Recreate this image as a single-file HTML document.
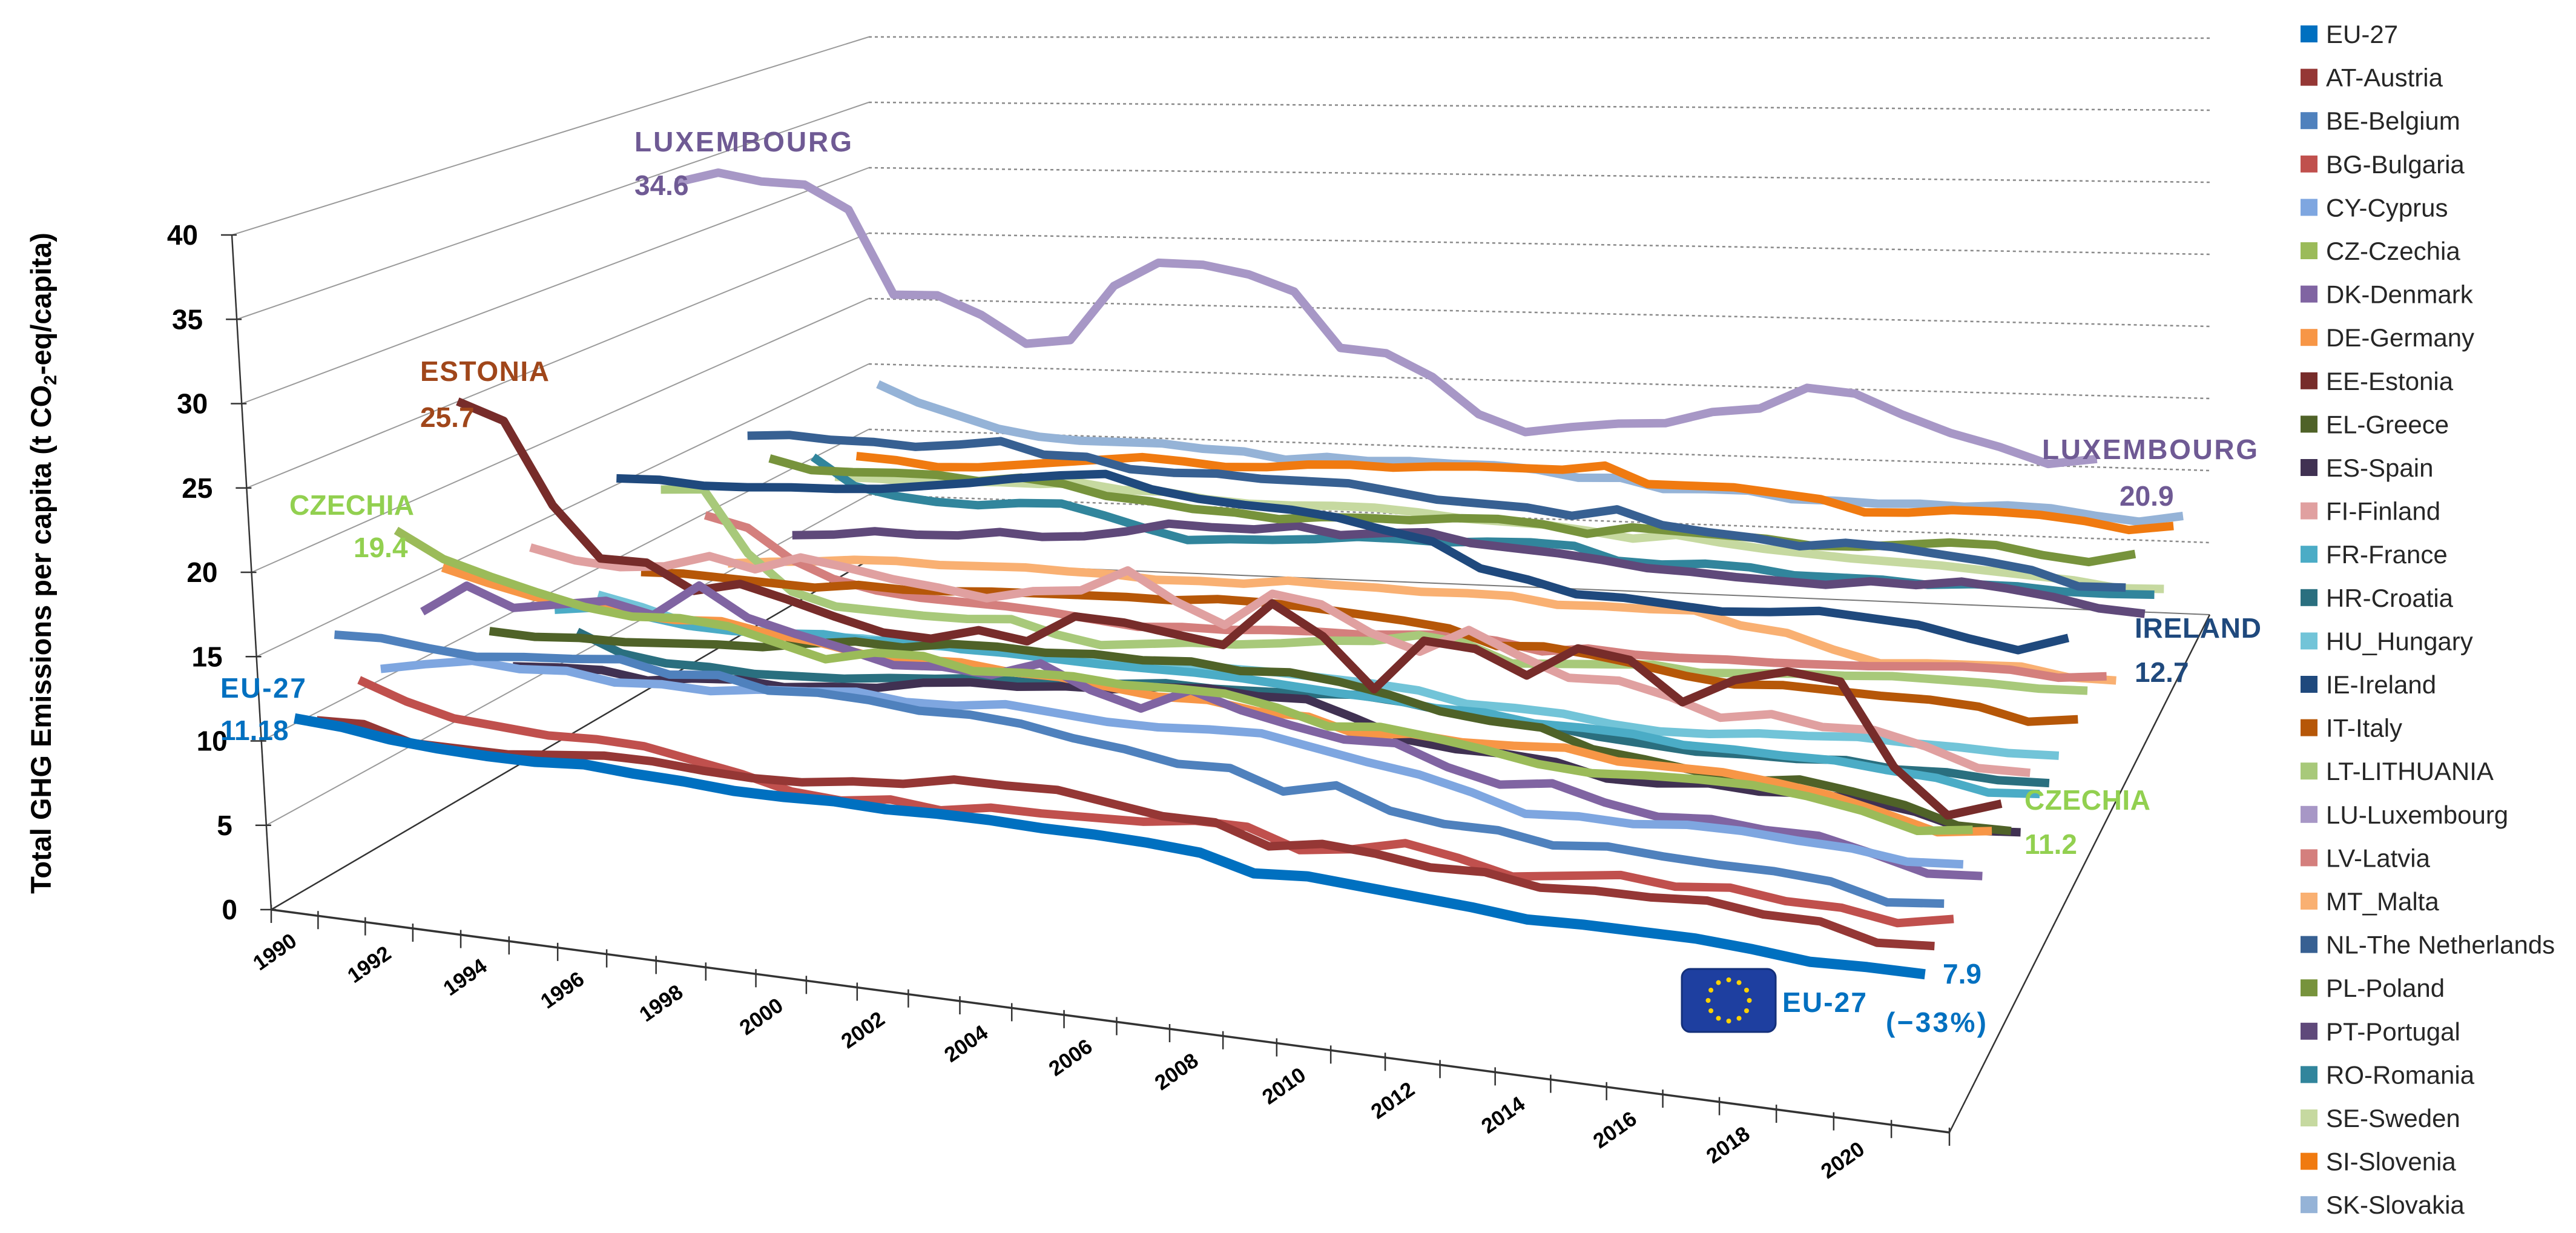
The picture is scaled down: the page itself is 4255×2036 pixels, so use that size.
<!DOCTYPE html>
<html><head><meta charset="utf-8">
<style>
html,body{margin:0;padding:0;background:#fff;}
svg{display:block;font-family:"Liberation Sans",sans-serif;}
</style></head>
<body>
<svg id="chart" xmlns="http://www.w3.org/2000/svg" width="4255" height="2036" viewBox="0 0 4255 2036">
<rect x="0" y="0" width="4255" height="2036" fill="#fff"/>
<g id="grid"></g>
<g id="axes"></g>
<g id="series"></g>
<g id="legend"></g>
<text transform="translate(84,930) rotate(-90)" text-anchor="middle" font-size="47" font-weight="bold" fill="#000">Total GHG Emissions per capita  (t CO<tspan font-size="30" baseline-shift="-9">2</tspan>-eq/capita)</text>
<g font-weight="bold">
<text x="1048" y="250" font-size="46" fill="#6F5A94" textLength="359">LUXEMBOURG</text>
<text x="1048" y="322" font-size="46" fill="#6F5A94">34.6</text>
<text x="694" y="629" font-size="46" fill="#A0461A" textLength="213">ESTONIA</text>
<text x="694" y="705" font-size="46" fill="#A0461A">25.7</text>
<text x="478" y="850" font-size="46" fill="#92D050" textLength="206">CZECHIA</text>
<text x="584" y="920" font-size="46" fill="#92D050">19.4</text>
<text x="364" y="1152" font-size="46" fill="#0070C0" textLength="141">EU-27</text>
<text x="364" y="1222" font-size="46" fill="#0070C0">11.18</text>
<text x="3373" y="758" font-size="46" fill="#6F5A94" textLength="356">LUXEMBOURG</text>
<text x="3501" y="835" font-size="46" fill="#6F5A94">20.9</text>
<text x="3526" y="1053" font-size="46" fill="#1F497D" textLength="209">IRELAND</text>
<text x="3526" y="1126" font-size="46" fill="#1F497D">12.7</text>
<text x="3344" y="1337" font-size="46" fill="#92D050" textLength="208">CZECHIA</text>
<text x="3344" y="1410" font-size="46" fill="#92D050">11.2</text>
<g>
<rect x="2778" y="1600" width="155" height="104" rx="14" fill="#1E3FA0" stroke="#14307a" stroke-width="3"/>
<g id="stars" fill="#FFD200"></g>
</g>
<text x="2944" y="1671" font-size="46" fill="#0070C0" textLength="139">EU-27</text>
<text x="3209" y="1624" font-size="46" fill="#0070C0">7.9</text>
<text x="3115" y="1704" font-size="46" fill="#0070C0" textLength="166">(−33%)</text>
</g>
</svg>
<script>
const years = [];
for (let y = 1990; y <= 2021; y++) years.push(y);
const yTicks = [0,5,10,15,20,25,30,35,40];
const seriesNames = ["EU-27","AT-Austria","BE-Belgium","BG-Bulgaria","CY-Cyprus","CZ-Czechia","DK-Denmark","DE-Germany","EE-Estonia","EL-Greece","ES-Spain","FI-Finland","FR-France","HR-Croatia","HU_Hungary","IE-Ireland","IT-Italy","LT-LITHUANIA","LU-Luxembourg","LV-Latvia","MT_Malta","NL-The Netherlands","PL-Poland","PT-Portugal","RO-Romania","SE-Sweden","SI-Slovenia","SK-Slovakia"];
const seriesColors = ["#0070C0","#953735","#4F81BD","#C0504D","#7EA6E0","#9BBB59","#8064A2","#F79646","#772C2A","#4F6228","#403152","#E0A0A0","#4BACC6","#2A6F7F","#72C4D8","#1F497D","#B65708","#A8C97A","#A797C6","#D47F7D","#F9B072","#376092","#77933C","#5F497A","#31859C","#C6D9A0","#F07A10","#95B3D7"];
const vEU = [11.18,11.0,10.6,10.4,10.3,10.3,10.5,10.3,10.2,10.0,10.0,10.1,10.0,10.1,10.1,10.0,10.0,9.9,9.7,8.9,9.1,8.9,8.7,8.5,8.2,8.3,8.3,8.3,8.1,7.8,7.9,7.9];
const vAT = [10.4,10.5,9.7,9.7,9.7,10.0,10.3,10.3,10.1,10.0,10.1,10.5,10.7,11.3,11.3,11.4,11.0,10.6,10.6,9.6,10.1,9.9,9.5,9.6,9.1,9.3,9.3,9.5,9.1,9.1,8.3,8.5];
const vBE = [14.9,15.0,14.7,14.5,14.8,15.0,15.3,14.7,15.0,14.4,14.6,14.5,14.2,14.3,14.1,13.6,13.3,12.8,12.9,11.9,12.6,11.5,11.1,11.1,10.6,10.9,10.7,10.6,10.6,10.4,9.6,9.9];
const vBG = [11.5,10.5,9.8,9.6,9.4,9.5,9.4,8.9,8.4,7.7,7.5,7.9,7.6,8.1,8.1,8.2,8.3,8.7,8.7,7.7,8.1,8.8,8.3,7.6,8.0,8.4,8.1,8.4,8.0,8.0,7.5,8.1];
const vCY = [11.5,12.1,12.6,12.4,12.6,12.2,12.4,12.3,12.7,12.9,13.2,12.9,13.0,13.4,13.2,13.0,13.0,13.2,13.3,12.8,12.3,11.9,11.2,10.3,10.5,10.4,10.7,10.7,10.5,10.4,10.0,10.2];
const vCZ = [19.4,17.9,17.1,16.4,15.8,15.5,15.7,15.5,14.8,14.1,14.8,14.9,14.3,14.5,14.6,14.4,14.5,14.5,14.0,13.2,13.5,13.2,12.8,12.3,12.1,12.3,12.4,12.4,12.1,11.6,10.8,11.2];
const vDK = [13.7,15.6,14.5,15.0,15.5,14.9,17.0,15.3,14.6,14.0,13.3,13.5,13.3,14.3,13.0,12.2,13.6,12.7,12.1,11.6,11.7,10.6,9.9,10.3,9.5,9.0,9.2,8.9,8.9,8.2,7.4,7.6];
const vDE = [15.8,15.1,14.5,14.3,14.0,13.9,14.1,13.6,13.4,12.9,12.9,13.0,12.7,12.7,12.4,12.1,12.2,11.8,11.8,11.0,11.4,11.2,11.3,11.5,11.0,11.0,11.0,10.7,10.3,9.6,8.8,9.2];
const vEE = [25.7,24.7,19.6,16.5,16.5,15.0,15.7,15.0,14.2,13.5,13.4,14.2,13.8,15.6,15.5,15.1,14.7,17.5,15.8,12.9,16.1,15.9,14.6,16.5,16.1,13.9,15.5,16.3,16.0,11.3,8.8,9.8];
const vEL = [10.4,10.3,10.5,10.5,10.7,10.9,11.0,11.5,11.9,11.8,12.3,12.4,12.3,12.5,12.4,12.6,12.3,12.5,12.2,11.7,11.0,10.7,10.6,9.6,9.3,8.9,8.6,9.0,8.6,8.1,7.2,7.2];
const vES = [7.4,7.6,7.7,7.3,7.7,7.9,7.7,8.0,8.2,8.8,9.1,9.1,9.4,9.5,9.9,10.1,9.9,10.0,9.1,8.1,7.8,7.8,7.6,6.9,6.9,7.2,7.0,7.2,7.1,6.7,5.9,6.1];
const vFI = [14.4,13.8,13.6,13.9,14.8,14.2,15.2,14.8,14.3,14.0,13.6,14.3,14.6,16.1,14.4,13.2,15.4,15.0,13.5,12.6,14.2,12.9,11.8,11.9,11.2,10.2,10.7,10.2,10.3,9.6,8.6,8.6];
const vFR = [9.6,10.0,9.7,9.3,9.2,9.3,9.5,9.3,9.6,9.3,9.3,9.2,9.1,9.1,9.1,9.0,8.8,8.6,8.5,8.2,8.2,7.8,7.8,7.7,7.3,7.3,7.2,7.2,6.9,6.7,6.1,6.3];
const vHR = [7.4,6.2,5.8,5.8,5.6,5.7,5.8,6.1,6.3,6.6,6.6,6.8,7.0,7.3,7.2,7.3,7.4,7.6,7.4,7.0,6.8,6.7,6.3,6.1,5.9,6.0,6.0,6.2,5.9,6.0,5.8,5.9];
const vHU = [9.1,8.5,7.7,7.6,7.5,7.5,7.6,7.5,7.5,7.6,7.5,7.5,7.4,7.7,7.6,7.6,7.5,7.4,7.2,6.6,6.6,6.5,6.1,5.9,6.0,6.3,6.4,6.6,6.5,6.5,6.4,6.5];
const vIE = [16.2,16.3,16.1,16.2,16.4,16.5,16.7,17.1,17.5,18.0,18.4,18.7,17.9,17.5,17.3,17.2,16.9,16.3,15.8,14.3,13.8,13.1,13.1,12.9,12.7,12.9,13.2,13.0,12.8,12.2,11.7,12.7];
const vIT = [9.1,9.2,9.1,9.0,8.9,9.3,9.2,9.3,9.5,9.6,9.7,9.8,9.8,10.1,10.1,10.0,9.8,9.6,9.3,8.4,8.6,8.3,7.9,7.4,7.1,7.3,7.2,7.1,7.1,6.9,6.2,6.6];
const vLT = [14.0,14.2,10.0,7.6,6.8,6.7,6.6,6.6,6.8,6.0,5.5,5.8,6.1,6.2,6.5,6.9,7.1,7.7,7.4,6.3,6.5,6.7,6.9,6.6,6.8,7.0,7.1,7.3,7.3,7.3,7.2,7.3];
const vLU = [34.6,35.4,34.9,34.8,33.2,27.5,27.6,26.4,24.6,25.0,28.8,30.5,30.5,30.0,29.0,25.4,25.2,23.8,21.5,20.5,21.0,21.4,21.6,22.5,22.9,24.4,24.2,23.0,22.0,21.3,20.4,20.9];
const vLV = [10.7,10.0,8.0,6.8,6.2,5.9,5.8,5.7,5.5,5.2,4.9,5.1,5.1,5.3,5.4,5.4,5.6,5.8,5.6,5.1,5.5,5.3,5.3,5.4,5.4,5.5,5.6,5.8,6.0,6.0,5.7,6.0];
const vMT = [6.5,6.8,7.0,7.3,7.4,7.3,7.4,7.5,7.4,7.4,7.2,7.3,7.3,7.7,7.6,7.6,7.5,7.6,7.6,7.2,7.3,7.3,7.4,6.6,6.3,5.4,4.7,4.9,5.0,5.1,4.6,4.6];
const vNL = [14.8,15.0,14.8,14.8,14.6,14.9,15.3,14.5,14.5,13.8,13.7,13.8,13.6,13.6,13.6,13.2,12.8,12.7,12.6,12.2,12.8,11.9,11.6,11.4,11.0,11.4,11.3,11.0,10.7,10.3,9.4,9.5];
const vPL = [12.4,11.7,11.7,11.8,11.8,11.5,11.9,11.6,10.9,10.7,10.3,10.2,9.9,10.2,10.3,10.3,10.6,10.7,10.5,10.0,10.6,10.5,10.4,10.3,10.0,10.1,10.4,10.7,10.7,10.2,9.9,10.6];
const vPT = [6.0,6.2,6.6,6.5,6.6,7.0,6.8,7.0,7.5,8.2,8.1,8.1,8.5,8.0,8.3,8.5,7.9,7.7,7.5,7.2,6.8,6.7,6.5,6.4,6.3,6.7,6.6,7.0,6.7,6.3,5.7,5.5];
const vRO = [10.9,8.9,8.3,8.0,7.9,8.2,8.3,7.6,6.8,6.1,6.3,6.4,6.6,6.9,6.9,6.8,7.0,7.1,7.0,6.1,6.0,6.2,6.1,5.7,5.7,5.7,5.5,5.7,5.7,5.5,5.5,5.6];
const vSE = [8.6,8.6,8.5,8.6,8.7,8.7,8.9,8.5,8.5,8.1,7.9,7.9,8.0,8.0,7.8,7.5,7.4,7.3,7.0,6.6,7.0,6.6,6.3,6.1,5.9,5.8,5.7,5.5,5.3,5.1,4.7,4.8];
const vSI = [9.3,9.1,8.7,8.8,9.1,9.4,9.7,10.0,9.8,9.5,9.6,9.9,10.0,9.9,10.1,10.2,10.2,10.2,10.6,9.4,9.4,9.4,9.1,8.8,8.0,8.1,8.4,8.4,8.3,8.0,7.5,7.9];
const vSK = [13.9,12.6,11.7,10.8,10.3,10.1,10.1,10.1,9.8,9.7,9.2,9.5,9.3,9.4,9.3,9.3,9.1,8.6,8.7,8.0,8.1,8.1,7.6,7.6,7.5,7.6,7.5,7.7,7.6,7.2,6.9,7.4];
const seriesValues = [vEU,vAT,vBE,vBG,vCY,vCZ,vDK,vDE,vEE,vEL,vES,vFI,vFR,vHR,vHU,vIE,vIT,vLT,vLU,vLV,vMT,vNL,vPL,vPT,vRO,vSE,vSI,vSK];

const NS = "http://www.w3.org/2000/svg";
const FL=[448,1502], FR=[3220,1870], BL=[1435,925], BR=[3650,1015];
const sFL=27.85, sFR=30.5, sBL=21.6, sBR=23.8;
function gF(u){const k=0.124;return (u+k*u*u)/(1+k);}
function gB(u){const k=0.05;return (u+k*u*u)/(1+k);}
function proj(u,d,v){
  const a=gF(u), b=gB(u);
  const fx=FL[0]+(FR[0]-FL[0])*a, fy=FL[1]+(FR[1]-FL[1])*a;
  const bx=BL[0]+(BR[0]-BL[0])*b, by=BL[1]+(BR[1]-BL[1])*b;
  const x=fx+(bx-fx)*d, y=fy+(by-fy)*d;
  const sF=sFL+(sFR-sFL)*u, sB=sBL+(sBR-sBL)*u;
  const s=sF+(sB-sF)*d;
  const tilt=-1.625*(1-d)*(1-u);
  return [x+tilt*v, y-s*v];
}
const nCat=years.length, nSer=seriesValues.length;
function xU(i){return (i+0.5)/nCat;}
function dS(j){return (j+0.5)/nSer;}
function mk(tag,attrs,parent){const e=document.createElementNS(NS,tag);for(const k in attrs)e.setAttribute(k,attrs[k]);parent.appendChild(e);return e;}

const grid=document.getElementById('grid');
yTicks.forEach(v=>{
  if(v===0)return;
  const a=proj(0,0,v), b=proj(0,1,v), c=proj(1,1,v);
  const l1=mk('line',{x1:a[0],y1:a[1],x2:b[0],y2:b[1],stroke:'#9a9a9a','stroke-width':2},grid);
  
  
  const l2=mk('line',{x1:b[0],y1:b[1],x2:c[0],y2:c[1],stroke:'#8a8a8a','stroke-width':2.5,'stroke-dasharray':'5 5'},grid);
  
  
});
const axes=document.getElementById('axes');
function line(p,q,w,name,col){const l=mk('line',{x1:p[0],y1:p[1],x2:q[0],y2:q[1],stroke:col||'#333','stroke-width':w},axes);return l;}
line(proj(0,0,0),proj(0,1,0),2.5,'floor-left-edge');
line(proj(0,1,0),proj(1,1,0),2,'floor-back-edge','#777');
line(proj(1,0,0),proj(1,1,0),2.5,'floor-right-edge');
line(proj(0,0,0),proj(1,0,0),3.5,'x-axis-line');
line(proj(0,0,0),proj(0,0,40),2.5,'y-axis-line');
for(let i=0;i<=nCat;i++){
  const p=proj(i/nCat,0,0);
  line([p[0],p[1]-8],[p[0],p[1]+22],2.5,'x-tick');
}
yTicks.forEach(v=>{
  const p=proj(0,0,v);
  line([p[0]-18,p[1]],[p[0]+8,p[1]],2.5,'y-tick');
  const t=mk('text',{x:p[0]-56,y:p[1]+16,'text-anchor':'end','font-size':46,'font-weight':'bold',fill:'#000'},axes);
  
  
  t.textContent=v;
});
years.forEach((yr,i)=>{
  if(yr%2!==0)return;
  const p=proj(xU(i),0,0);
  const tx=p[0]+6, ty=p[1]+52;
  const t=mk('text',{x:tx,y:ty,'text-anchor':'end','font-size':35,'font-weight':'bold',fill:'#000',transform:`rotate(-35 ${tx} ${ty})`},axes);
  
  
  t.textContent=yr;
});

const sg=document.getElementById('series');
for(let j=nSer-1;j>=0;j--){
  const vals=seriesValues[j];
  const pts=vals.map((v,i)=>proj(xU(i),dS(j),v).map(n=>n.toFixed(1)).join(',')).join(' ');
  const w=j===0?17:14;
  const pl=mk('polyline',{points:pts,fill:'none',stroke:seriesColors[j],'stroke-width':w,'stroke-linejoin':'round','stroke-linecap':'butt'},sg);
  
  
}

const lg=document.getElementById('legend');
seriesNames.forEach((n,i)=>{
  const cy=56+71.6*i;
  const g=mk('g',{},lg);
  
  
  mk('rect',{x:3800,y:cy-14,width:28,height:28,fill:seriesColors[i]},g);
  const t=mk('text',{x:3842,y:cy+15,'font-size':42,fill:'#262626'},g);
  t.textContent=n;
});

const st=document.getElementById('stars');
for(let k=0;k<12;k++){
  const a=k*Math.PI/6;
  const c=mk('circle',{cx:2855.5+34*Math.cos(a),cy:1652+34*Math.sin(a),r:4},st);
  
  
}
</script>
</body></html>
